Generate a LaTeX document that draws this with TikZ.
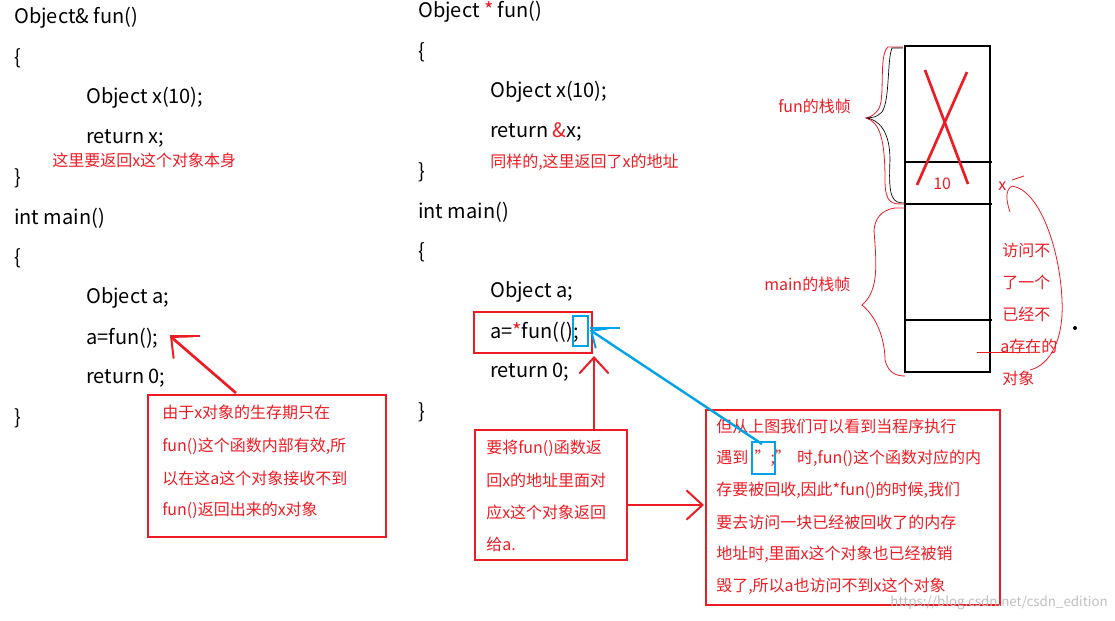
\documentclass[tikz,border=0pt]{standalone}
\usepackage{fontspec}
\setmainfont{Noto Sans CJK SC}
\usetikzlibrary{arrows.meta}
\definecolor{pr}{HTML}{ED1C24}
\definecolor{pb}{HTML}{00A2E8}
\tikzset{
 code/.style={anchor=west,font=\fontsize{15}{15}\selectfont,inner sep=0pt},
 note/.style={anchor=west,font=\fontsize{12}{12}\selectfont,text=pr,inner sep=0pt},
 rbox/.style={draw=pr,line width=2pt},
 bbox/.style={draw=pb,line width=2pt},
 rarr/.style={draw=pr,line width=2pt,-{Straight Barb[length=12pt,width=22pt,line width=1.5pt]}},
 barr/.style={draw=pb,line width=1.8pt,-{Straight Barb[length=10pt,width=18pt,line width=1.5pt]}},
 stk/.style={draw=black,line width=2.2pt},
 thin/.style={draw=pr,line width=0.6pt}
}
\begin{document}
\begin{tikzpicture}[x=0.75pt,y=-0.75pt]
\useasboundingbox (0,0) rectangle (1115,621);
% left code
\node[code] (l1) at (14,18) {Object\& fun()};
\node[code] (l2) at (14,58) {\{};
\node[code] (l3) at (86,98) {Object x(10);};
\node[code] (l4) at (86,138) {return x;};
\node[note] (n1) at (52,160) {这里要返回x这个对象本身};
\node[code] (l5) at (14,178) {\}};
\node[code] (l6) at (14,218) {int main()};
\node[code] (l7) at (14,258) {\{};
\node[code] (l8) at (86,298) {Object a;};
\node[code] (l9) at (86,338) {a=fun();};
\node[code] (l10) at (86,378) {return 0;};
\node[code] (l11) at (14,418) {\}};
% middle code
\node[code] (m1) at (418,12) {Object \textcolor{pr}{*} fun()};
\node[code] (m2) at (418,52) {\{};
\node[code] (m3) at (490,92) {Object x(10);};
\node[code] (m4) at (490,132) {return \textcolor{pr}{\&}x;};
\node[note] (n2) at (490,162) {同样的,这里返回了x的地址};
\node[code] (m5) at (418,172) {\}};
\node[code] (m6) at (418,212) {int main()};
\node[code] (m7) at (418,252) {\{};
\node[code] (m8) at (490,292) {Object a;};
\node[code] (m9) at (490,332) {a=\textcolor{pr}{*}fun(();};
\node[code] (m10) at (490,372) {return 0;};
\node[code] (m11) at (418,412) {\}};
% boxes around a=*fun();
\draw[rbox] (474,312) rectangle (592,353);
\draw[bbox] (573,316) rectangle (588,346);
\coordinate (semi) at (590,330);
% left note box
\draw[rbox] (148,395) rectangle (386,537);
\node[note] (b1) at (162,412) {由于x对象的生存期只在};
\node[note] at (162,446) {fun()这个函数内部有效,所};
\node[note] at (162,478) {以在这a这个对象接收不到};
\node[note] at (162,510) {fun()返回出来的x对象};
\coordinate (la) at (236,393);
\coordinate (lt) at (170,336);
\draw[rarr] (la) -- (lt);
\draw[pr,line width=1.5pt] (170,336) -- (200,336);
% middle note box
\draw[rbox] (475,430) rectangle (627,560);
\node[note] at (486,448) {要将fun()函数返};
\node[note] at (486,480) {回x的地址里面对};
\node[note] at (486,512) {应x这个对象返回};
\node[note] at (486,544) {给a.};
\coordinate (ma) at (594,430);
\coordinate (mt) at (594,356);
\draw[rarr] (ma) -- (mt);
\coordinate (ha) at (627,505);
\coordinate (ht) at (704,505);
\draw[rarr] (ha) -- (ht);
% right note box
\draw[rbox] (706,410) rectangle (1000,605);
\node[note] at (716,426) {但从上图我们可以看到当程序执行};
\node[note] at (716,458) {遇到 \,";"\, 时,fun()这个函数对应的内};
\node[note] at (716,490) {存要被回收,因此*fun()的时候,我们};
\node[note] at (716,522) {要去访问一块已经被回收了的内存};
\node[note] at (716,554) {地址时,里面x这个对象也已经被销};
\node[note] at (716,586) {毁了,所以a也访问不到x这个对象};
\draw[bbox] (752,442) rectangle (775,474);
\coordinate (bs) at (762,444);
\draw[barr] (bs) -- (semi);
\draw[pb,line width=1.8pt] (590,328) -- (620,328);
% stack
\draw[stk] (905,46) rectangle (990,372);
\draw[stk] (905,162) -- (992,162);
\draw[stk] (905,204) -- (992,204);
\draw[stk] (905,320) -- (992,320);
\draw[pr,line width=2pt] (925,70) -- (968,184);
\draw[pr,line width=2pt] (967,72) -- (917,185);
\node[note] (ten) at (933,184) {10};
\node[note] (xl) at (998,186) {x};
\draw[thin] (1012,180) -- (1024,176);
\draw[thin] (1012,186) .. controls (1005,190) and (1006,200) .. (1010,212);
\draw[thin] (1012,186) .. controls (1040,190) and (1060,250) .. (1062,300) .. controls (1064,340) and (1050,365) .. (1030,370);
\node[note] at (1002,250) {访问不};
\node[note] at (1002,282) {了一个};
\node[note] at (1002,314) {已经不};
\node[note] at (1000,346) {a存在的};
\draw[thin] (977,352) -- (1030,352);
\node[note] at (1002,378) {对象};
\fill (1075,328) circle (1.5pt);
% braces
\node[note] (fl) at (778,106) {fun的栈帧};
\node[note] (ml) at (764,284) {main的栈帧};
\draw[thin] (903,47) -- (888,47) .. controls (878,55) and (886,100) .. (878,110) .. controls (872,118) and (865,118) .. (866,118) .. controls (880,122) and (885,140) .. (885,180) .. controls (885,205) and (893,204) .. (905,204);
\draw[black,line width=0.5pt] (903,48) -- (892,48) .. controls (887,60) and (890,100) .. (882,112) .. controls (876,117) .. (867,118) .. controls (878,120) and (890,130) .. (890,160) .. controls (888,200) and (893,203) .. (905,203);
\draw[thin] (905,208) -- (895,208) .. controls (880,210) and (875,220) .. (874,230) .. controls (876,260) and (880,290) .. (862,305) .. controls (880,320) and (885,345) .. (885,360) .. controls (888,372) and (895,376) .. (905,376);
% watermark
\node[anchor=east,font=\fontsize{10}{10}\selectfont,text=black!25,inner sep=0pt] (wm) at (1108,603) {https://blog.csdn.net/csdn\_edition};
\end{tikzpicture}
\end{document}
